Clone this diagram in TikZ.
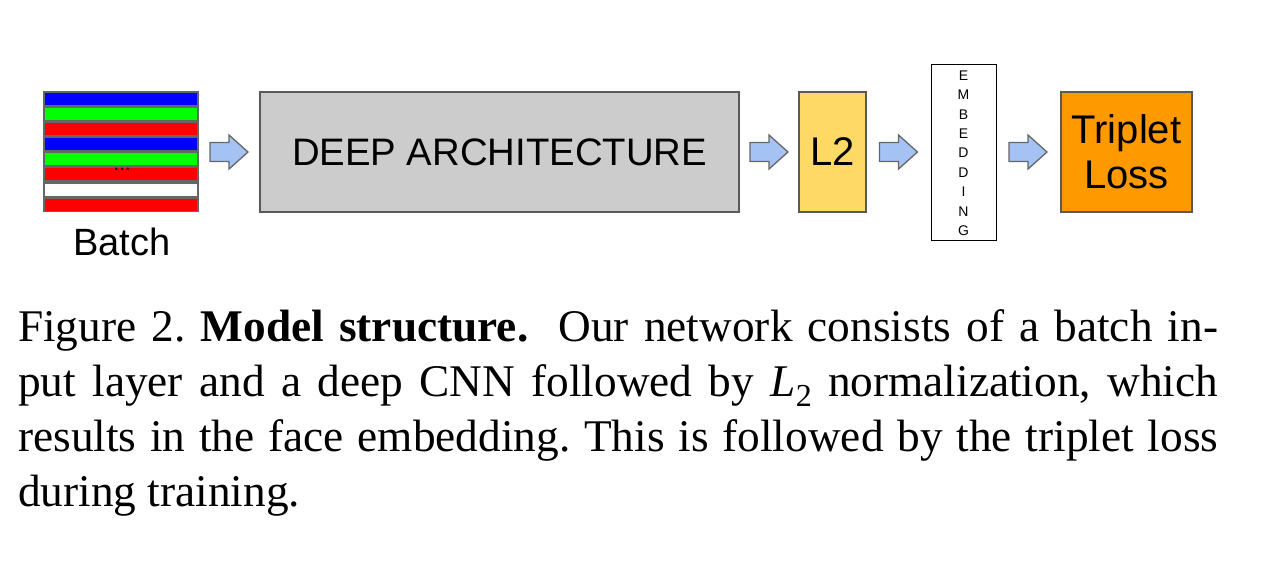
\documentclass[tikz,border=0pt]{standalone}
\usepackage{fontspec}
\setmainfont{Liberation Serif}
\newfontfamily\arialf{Liberation Sans}
\definecolor{bordergrey}{HTML}{595959}
\definecolor{stripegrey}{HTML}{666666}
\definecolor{archfill}{HTML}{CCCCCC}
\definecolor{ltwofill}{HTML}{FFD966}
\definecolor{lossfill}{HTML}{FF9900}
\definecolor{arrowfill}{HTML}{A4C2F4}
\definecolor{sblue}{HTML}{0000FF}
\definecolor{sgreen}{HTML}{00FF00}
\definecolor{sred}{HTML}{FF0000}
\tikzset{
  blockbox/.style={draw=bordergrey, line width=1.3pt, inner sep=0pt, font=\arialf},
  flowarrow/.style={draw=stripegrey, fill=arrowfill, line width=1.3pt, line join=miter},
  pics/blockarrow/.style={code={
    \path[flowarrow] (-19,-9.5) -- (0,-9.5) -- (0,-17) -- (19,0) -- (0,17) -- (0,9.5) -- (-19,9.5) -- cycle;
  }},
}
\begin{document}
\begin{tikzpicture}[x=1pt,y=-1pt]
\useasboundingbox (0,0) rectangle (1273,566);
% batch
\fill[stripegrey] (43,91) rectangle (199,212);
\foreach \y/\c in {93/sblue,108/sgreen,123/sred,138/sblue,153/sgreen,168/sred,184/white,199/sred}{
  \fill[\c] (45,\y) rectangle (197,\y+12);
}
\node[font=\arialf\fontsize{21}{21}\selectfont, inner sep=0pt] (dots) at (122,169) {...};
\node[font=\arialf\fontsize{38}{38}\selectfont, inner sep=0pt] (batch) at (122,242) {Batch};
% boxes
\node[blockbox, fill=archfill, minimum width=479pt, minimum height=120pt,
  font=\arialf\fontsize{38.3}{38}\selectfont] (arch) at (499.5,152) {DEEP ARCHITECTURE};
\node[blockbox, fill=ltwofill, minimum width=67pt, minimum height=120pt,
  font=\arialf\fontsize{40}{40}\selectfont] (ltwo) at (832.5,152) {L2};
\node[blockbox, draw=black, line width=1pt, fill=white, minimum width=65pt, minimum height=176pt] (emb) at (963.5,152) {};
\foreach \ch [count=\i from 0] in {E,M,B,E,D,D,I,N,G}{
  \node[font=\arialf\fontsize{14}{14}\selectfont, inner sep=0pt] (emb\i) at (963.5,75.5+19.4*\i) {\ch};
}
\node[blockbox, fill=lossfill, minimum width=131pt, minimum height=120pt,
  align=center, font=\arialf\fontsize{40}{45}\selectfont] (loss) at (1126.5,152) {Triplet\\Loss};
% arrows
\pic (a1) at (229,152) {blockarrow};
\pic (a2) at (769,152) {blockarrow};
\pic (a3) at (898.5,152) {blockarrow};
\pic (a4) at (1028,152) {blockarrow};
% caption
\node[anchor=north west, inner sep=0pt, text width=1200pt, align=justify,
  font=\frenchspacing\fontsize{45.3}{55}\selectfont] (caption) at (18,309)
  {Figure 2. \textbf{Model structure.}\ \ Our network consists of a batch in-\linebreak
   put layer and a deep CNN followed by \textit{L}\raisebox{-0.22em}{\fontsize{32}{32}\selectfont 2} normalization, which\linebreak
   results in the face embedding. This is followed by the triplet loss\linebreak
   during training.};
\end{tikzpicture}
\end{document}
